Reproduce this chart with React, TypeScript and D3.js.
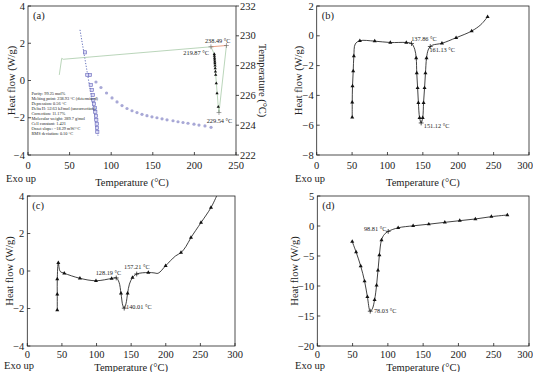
import React from 'react';
import * as d3 from 'd3';

const FONT = "'Liberation Serif', 'Times New Roman', serif";
type P = [number, number];

// ---------- Panel (a) ----------
const aXTicks = [0, 50, 100, 150, 200, 250];
const aYTicks = [-4, -2, 0, 2, 4];
const aY2Ticks = [222, 224, 226, 228, 230, 232];
const aHeatCurve: P[] = [[37.6, 0.3], [40.5, 1.19], [42.4, 1.14], [219.87, 1.81], [223.9, 1.42], [225.6, 0.3], [228.7, -1.41], [229.54, -1.72], [238.49, 1.88]];
const aBaseline: P[] = [[219.87, 1.81], [238.49, 1.88]];
const aCrosses: P[] = [[219.87, 1.81], [238.49, 1.88], [229.54, -1.72]];
const aPartial: P[] = [[223.9, 1.42], [224.0, 1.32], [224.2, 1.22], [224.3, 1.12], [224.5, 1.02], [224.6, 0.92], [224.8, 0.8], [225.0, 0.65], [225.3, 0.48], [225.6, 0.3], [226.3, -0.15], [227.2, -0.69], [228.7, -1.41]];
const aSquares: P[] = [[68.5, 228.89], [71.3, 227.37], [74.5, 227.37], [75.4, 226.7], [76.6, 226.36], [77.8, 226.03], [78.5, 225.69], [79.3, 225.42], [80.2, 225.15], [80.9, 224.89], [81.7, 224.62], [82.1, 224.35], [82.6, 224.08], [82.9, 223.81], [83.3, 223.54]];
const aFit: P[] = [[62.5, 230.4], [84.1, 223.3]];
const aCircles: P[] = [[81.7, 226.9], [87.7, 226.53], [94.4, 226.16], [101.0, 225.83], [107.0, 225.56], [113.0, 225.32], [119.0, 225.12], [125.0, 224.97], [131.0, 224.85], [137.0, 224.73], [143.0, 224.64], [149.0, 224.56], [155.0, 224.5], [161.1, 224.43], [167.1, 224.36], [174.3, 224.3], [180.3, 224.23], [186.3, 224.18], [192.3, 224.13], [199.5, 224.07], [205.5, 224.01], [212.7, 223.95], [220.0, 223.86]];
const aLabels: { x: number; y: number; t: string }[] = [
  { x: 212.7, y: 2.14, t: '238.49 °C' },
  { x: 186.7, y: 1.49, t: '219.87 °C' },
  { x: 214.8, y: -2.16, t: '229.54 °C' },
];
const aInfo = [
  'Purity: 99.25 mol%',
  'Melting point: 238.93 °C (determined)',
  'Depression: 0.56 °C',
  'Delta H: 52.63 kJ/mol (uncorrection)',
  'Correction: 11.17%',
  'Molecular weight: 289.7 g/mol',
  'Cell constant: 1.421',
  'Onset slope: −18.29 mW/°C',
  'RMS deviation: 0.10 °C',
];

// ---------- Panel (b) ----------
const bXTicks = [0, 50, 100, 150, 200, 250, 300];
const bYTicks = [-8, -6, -4, -2, 0, 2];
const bCurve: P[] = [[50.2, -5.47], [50.2, -4.47], [50.6, -3.37], [51.6, -2.36], [52.5, -1.36], [54.5, -0.55], [61, -0.33], [82, -0.36], [104, -0.45], [126.6, -0.45], [134, -0.52], [138.5, -0.9], [140.6, -1.5], [141.4, -2.5], [142.6, -3.5], [143.7, -4.5], [145.4, -5.5], [147.6, -5.85], [149.8, -5.5], [151, -4.5], [152.4, -3.5], [153.7, -2.5], [155.2, -1.5], [157.5, -0.95], [160.5, -0.72], [164, -0.62], [177, -0.5], [197, -0.13], [219, 0.32], [232, 0.75], [241.5, 1.28]];
const bMarkers: P[] = [[50.2, -5.47], [50.2, -4.47], [50.6, -3.37], [51.6, -2.36], [52.5, -1.36], [61, -0.33], [82, -0.36], [104, -0.45], [126.6, -0.45], [140.6, -1.5], [141.4, -2.5], [142.6, -3.5], [143.7, -4.5], [145.4, -5.5], [149.8, -5.5], [151, -4.5], [152.4, -3.5], [153.7, -2.5], [155.2, -1.5], [177, -0.5], [197, -0.13], [219, 0.32], [241.5, 1.28]];
const bCrosses: P[] = [[134, -0.52], [160.5, -0.72], [147.6, -5.85]];
const bLabels = [
  { x: 133.5, y: -0.17, t: '137.86 °C' },
  { x: 159.3, y: -0.91, t: '161.13 °C' },
  { x: 151.3, y: -6.05, t: '151.12 °C' },
];

// ---------- Panel (c) ----------
const cXTicks = [0, 50, 100, 150, 200, 250, 300];
const cYTicks = [-4, -2, 0, 2, 4];
const cCurve: P[] = [[43.3, -2.08], [43.3, -1.24], [43.3, -0.43], [44.8, 0.44], [47.5, -0.02], [53.4, -0.12], [76, -0.39], [99.2, -0.52], [121.8, -0.4], [128.5, -0.37], [132.5, -0.6], [135.3, -1.19], [138, -1.85], [140, -1.98], [142.5, -1.75], [144.9, -1.19], [147.5, -0.7], [152, -0.35], [158, -0.16], [174.8, -0.08], [183, -0.1], [189, -0.12], [199.8, 0.28], [214, 0.8], [222, 0.98], [229, 1.3], [236.4, 1.78], [250.9, 2.58], [265.3, 3.38], [273.5, 4.0]];
const cMarkers: P[] = [[43.3, -2.08], [43.3, -1.24], [43.3, -0.43], [44.8, 0.44], [53.4, -0.12], [76, -0.39], [99.2, -0.52], [121.8, -0.4], [135.3, -1.19], [144.9, -1.19], [152, -0.35], [174.8, -0.08], [199.8, 0.28], [222, 0.98], [236.4, 1.78], [250.9, 2.58], [265.3, 3.38]];
const cCrosses: P[] = [[128.5, -0.37], [158, -0.16], [140, -1.98]];
const cLabels = [
  { x: 98.8, y: -0.12, t: '128.19 °C' },
  { x: 139.7, y: 0.2, t: '157.21 °C' },
  { x: 142.6, y: -1.9, t: '140.01 °C' },
];

// ---------- Panel (d) ----------
const dXTicks = [0, 50, 100, 150, 200, 250, 300];
const dYTicks = [-20, -15, -10, -5, 0, 5];
const dCurve: P[] = [[49.5, -2.6], [55, -4.35], [61.5, -6.67], [67, -9.2], [71, -11.8], [75, -14.2], [78, -13.8], [81.2, -12.3], [84, -9.9], [86, -7.4], [88, -4.83], [91, -2.33], [95, -1.4], [100.5, -0.9], [114.6, -0.3], [135.8, 0.03], [158, 0.3], [180.7, 0.61], [201.9, 0.89], [224, 1.17], [246.7, 1.56], [269.3, 1.83]];
const dMarkers: P[] = [[49.5, -2.6], [55, -4.35], [61.5, -6.67], [67, -9.2], [71, -11.8], [81.2, -12.3], [84, -9.9], [86, -7.4], [88, -4.83], [91, -2.33], [114.6, -0.3], [135.8, 0.03], [158, 0.3], [180.7, 0.61], [201.9, 0.89], [224, 1.17], [246.7, 1.56], [269.3, 1.83]];
const dCrosses: P[] = [[75, -14.2], [100.5, -0.9]];
const dLabels = [
  { x: 66.1, y: -0.5, t: '98.81 °C' },
  { x: 80.2, y: -14.17, t: '78.03 °C' },
];

// ---------- layout ----------
interface Box { l: number; r: number; t: number; b: number }
const boxA: Box = { l: 28, r: 236, t: 6, b: 155 };
const boxB: Box = { l: 316.7, r: 529, t: 6, b: 155 };
const boxC: Box = { l: 27.3, r: 235, t: 196, b: 346 };
const boxD: Box = { l: 317.3, r: 529, t: 196, b: 346 };

const fmt = (v: number) => (v < 0 ? '\u2212' + Math.abs(v) : String(v));
const FS = 10.5;
const txt = { fontFamily: FONT } as React.CSSProperties;

function Frame(props: {
  box: Box; xs: any; ys: any; xTicks: number[]; yTicks: number[]; tag: string;
  yTitleX: number; tickDy: number; exoX: number; exoY: number; titleY: number;
}) {
  const { box, xs, ys, xTicks, yTicks, tag, yTitleX, tickDy, exoX, exoY, titleY } = props;
  return (
    <g style={txt} fill="#222">
      <rect x={box.l} y={box.t} width={box.r - box.l} height={box.b - box.t} fill="none" stroke="#222" strokeWidth={0.8} />
      {xTicks.map((v, i) => {
        const last = i === xTicks.length - 1 && xs(v) + 9 > 533;
        return (
          <g key={'x' + v}>
            <line x1={xs(v)} x2={xs(v)} y1={box.b} y2={box.b - 3} stroke="#222" strokeWidth={0.8} />
            <text x={last ? 533 : xs(v)} y={box.b + tickDy} textAnchor={last ? 'end' : 'middle'} fontSize={FS}>{fmt(v)}</text>
          </g>
        );
      })}
      {yTicks.map((v) => (
        <g key={'y' + v}>
          <line x1={box.l} x2={box.l + 3} y1={ys(v)} y2={ys(v)} stroke="#222" strokeWidth={0.8} />
          <text x={box.l - 3} y={ys(v)} dy="0.35em" textAnchor="end" fontSize={FS}>{fmt(v)}</text>
        </g>
      ))}
      <text transform={`translate(${yTitleX},${(box.t + box.b) / 2}) rotate(-90)`} textAnchor="middle" fontSize={FS}>Heat flow (W/g)</text>
      <text x={exoX} y={exoY} fontSize={FS}>Exo up</text>
      <text x={(box.l + box.r) / 2} y={titleY} textAnchor="middle" fontSize={FS}>Temperature (°C)</text>
      <text x={box.l + 5} y={box.t + 12.5} fontSize={FS}>{tag}</text>
    </g>
  );
}

const tri = d3.symbol().type(d3.symbolTriangle).size(7)() as string;
const triSmall = d3.symbol().type(d3.symbolTriangle).size(4.5)() as string;
const crossPath = 'M-2.4,0H2.4M0,-2.4V2.4';

function Series(props: { xs: any; ys: any; curve: P[]; markers: P[]; crosses: P[]; labels: { x: number; y: number; t: string }[]; box: Box; id: string }) {
  const { xs, ys, curve, markers, crosses, labels, box, id } = props;
  const line = d3.line<P>().x((d) => xs(d[0])).y((d) => ys(d[1])).curve(d3.curveCatmullRom.alpha(0.5));
  return (
    <g>
      <defs>
        <clipPath id={id}><rect x={box.l} y={box.t} width={box.r - box.l} height={box.b - box.t} /></clipPath>
      </defs>
      <path d={line(curve) || ''} fill="none" stroke="#111" strokeWidth={0.8} clipPath={`url(#${id})`} />
      {markers.map((d, i) => (
        <path key={'m' + i} d={tri} transform={`translate(${xs(d[0])},${ys(d[1])})`} fill="#111" />
      ))}
      {crosses.map((d, i) => (
        <path key={'c' + i} d={crossPath} transform={`translate(${xs(d[0])},${ys(d[1])})`} stroke="#111" strokeWidth={0.7} fill="none" />
      ))}
      {labels.map((l, i) => (
        <text key={'l' + i} x={xs(l.x)} y={ys(l.y)} dy="0.35em" fontSize={6.3} style={txt} fill="#222">{l.t}</text>
      ))}
    </g>
  );
}

export default function App() {
  const xA = d3.scaleLinear().domain([0, 250]).range([boxA.l, boxA.r]);
  const yA = d3.scaleLinear().domain([-4, 4]).range([boxA.b, boxA.t]);
  const yA2 = d3.scaleLinear().domain([222, 232]).range([boxA.b, boxA.t]);
  const xB = d3.scaleLinear().domain([0, 300]).range([boxB.l, boxB.r]);
  const yB = d3.scaleLinear().domain([-8, 2]).range([boxB.b, boxB.t]);
  const xC = d3.scaleLinear().domain([0, 300]).range([boxC.l, boxC.r]);
  const yC = d3.scaleLinear().domain([-4, 4]).range([boxC.b, boxC.t]);
  const xD = d3.scaleLinear().domain([0, 300]).range([boxD.l, boxD.r]);
  const yD = d3.scaleLinear().domain([-20, 5]).range([boxD.b, boxD.t]);

  const lineA = d3.line<P>().x((d) => xA(d[0])).y((d) => yA(d[1]));
  const fitA = d3.line<P>().x((d) => xA(d[0])).y((d) => yA2(d[1]));

  return (
    <svg width={533} height={372} style={{ position: 'absolute', left: 0, top: 0, background: '#fff' }}>
      <rect width={533} height={372} fill="#fff" />
      {/* Panel a */}
      <Frame box={boxA} xs={xA} ys={yA} xTicks={aXTicks} yTicks={aYTicks} tag="(a)" yTitleX={14.5} tickDy={14} exoX={6} exoY={182} titleY={186} />
      <g style={txt} fill="#222">
        {aY2Ticks.map((v) => (
          <g key={'r' + v}>
            <line x1={boxA.r} x2={boxA.r + 3} y1={yA2(v)} y2={yA2(v)} stroke="#222" strokeWidth={0.8} />
            <text x={boxA.r + 4} y={yA2(v)} dy="0.35em" fontSize={FS}>{v}</text>
          </g>
        ))}
        <text transform={`translate(${259},${(boxA.t + boxA.b) / 2}) rotate(90)`} textAnchor="middle" fontSize={FS}>Temperature (°C)</text>
      </g>
      <path d={fitA(aFit) || ''} stroke="#3a4aa8" strokeWidth={0.8} strokeDasharray="1.2,1.6" fill="none" />
      {aCircles.map((d, i) => (
        <circle key={'ci' + i} cx={xA(d[0])} cy={yA2(d[1])} r={1.6} fill="#a8a8d6" />
      ))}
      {aSquares.map((d, i) => (
        <rect key={'sq' + i} x={xA(d[0]) - 1.6} y={yA2(d[1]) - 1.6} width={3.2} height={3.2} fill="#d8d8f4" stroke="#6666bb" strokeWidth={0.6} />
      ))}
      <path d={lineA(aHeatCurve) || ''} stroke="#9cc39c" strokeWidth={0.7} fill="none" />
      <path d={lineA(aBaseline) || ''} stroke="#e58a66" strokeWidth={0.8} fill="none" />
      {aPartial.map((d, i) => (
        <path key={'p' + i} d={triSmall} transform={`translate(${xA(d[0])},${yA(d[1])})`} fill="#111" />
      ))}
      {aCrosses.map((d, i) => (
        <path key={'x' + i} d={crossPath} transform={`translate(${xA(d[0])},${yA(d[1])})`} stroke="#666" strokeWidth={0.6} fill="none" />
      ))}
      {aLabels.map((l, i) => (
        <text key={'al' + i} x={xA(l.x)} y={yA(l.y)} dy="0.35em" fontSize={6.3} style={txt} fill="#222">{l.t}</text>
      ))}
      <g style={txt} fontSize={4.3} fill="#222">
        {aInfo.map((s, i) => (
          <text key={'i' + i} x={xA(4.2)} y={yA(-0.8) + i * 4.9}>{s}</text>
        ))}
      </g>

      {/* Panel b */}
      <Frame box={boxB} xs={xB} ys={yB} xTicks={bXTicks} yTicks={bYTicks} tag="(b)" yTitleX={302} tickDy={14} exoX={295} exoY={182} titleY={186} />
      <Series xs={xB} ys={yB} curve={bCurve} markers={bMarkers} crosses={bCrosses} labels={bLabels} box={boxB} id="clipB" />

      {/* Panel c */}
      <Frame box={boxC} xs={xC} ys={yC} xTicks={cXTicks} yTicks={cYTicks} tag="(c)" yTitleX={13} tickDy={12} exoX={4} exoY={369} titleY={371} />
      <Series xs={xC} ys={yC} curve={cCurve} markers={cMarkers} crosses={cCrosses} labels={cLabels} box={boxC} id="clipC" />

      {/* Panel d */}
      <Frame box={boxD} xs={xD} ys={yD} xTicks={dXTicks} yTicks={dYTicks} tag="(d)" yTitleX={298} tickDy={12} exoX={295} exoY={369} titleY={371} />
      <Series xs={xD} ys={yD} curve={dCurve} markers={dMarkers} crosses={dCrosses} labels={dLabels} box={boxD} id="clipD" />
    </svg>
  );
}
